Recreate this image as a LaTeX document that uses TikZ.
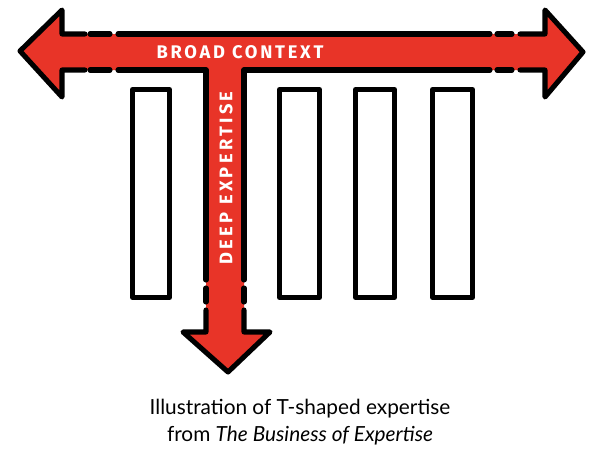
\documentclass[tikz,border=0pt]{standalone}
\usepackage{fontspec}
\setmainfont{Lato}
\newfontfamily\handfont[LetterSpace=15]{Fira Sans}
\newfontfamily\handfontv[LetterSpace=18]{Fira Sans}
\usepackage{xcolor}
\usepackage{tikz}
\definecolor{tred}{RGB}{232,52,40}
\tikzset{outline/.style={line width=3.6pt, line cap=round, line join=round}}

\begin{document}
\begin{tikzpicture}[x=0.025cm, y=-0.025cm]
    \useasboundingbox (0, 0) rectangle (600, 456);

    % T fill
    \fill[tred] (62, 34) -- (62, 10) -- (20, 51) -- (62, 97) -- (62, 70) -- (206, 70) -- (206, 332) -- (183, 332) -- (228, 372) -- (270, 332) -- (244, 332) -- (244, 70) -- (545, 70) -- (545, 97) -- (583, 52) -- (545, 10) -- (545, 34) --cycle;

    % T outline, broken near the heads
    \draw[outline] (85, 34) -- (62, 34) -- (62, 10) -- (20, 51) -- (62, 97) -- (62, 70) -- (85, 70);
    \foreach \y in {34, 70}{
            \draw[outline] (90, \y) -- (110, \y);
            \draw[outline] (497, \y) -- (512, \y);
        }
    \draw[outline] (118, 34) -- (490, 34);
    \draw[outline] (118, 70) -- (206, 70) -- (206, 280);
    \draw[outline] (244, 280) -- (244, 70) -- (490, 70);
    \foreach \x in {206, 244}{
            \draw[outline] (\x, 288) -- (\x, 302);
        }
    \draw[outline] (206, 310) -- (206, 332) -- (183, 332) -- (228, 372) -- (270, 332) -- (244, 332) -- (244, 310);
    \draw[outline] (520, 34) -- (545, 34) -- (545, 10) -- (583, 52) -- (545, 97) -- (545, 70) -- (520, 70);

    % columns
    \foreach \xa/\xb in {132.5/169.5, 279.5/319.5, 355.5/394.5, 432.5/472.5}{
            \draw[outline] (\xa, 89.5) rectangle (\xb, 297.5);
        }

    % labels
    \node[text=white, font=\handfont\bfseries\fontsize{13}{13}\selectfont] (broad) at (240, 52) {BROAD CONTEXT};
    \node[text=white, rotate=90, font=\handfontv\bfseries\fontsize{13}{13}\selectfont] (deep) at (226, 178) {DEEP EXPERTISE};
    \node[align=center, font=\fontsize{14.8}{19.5}\selectfont] (caption) at (300, 422) {Illustration of T-shaped expertise\\from \textit{The Business of Expertise}};
\end{tikzpicture}
\end{document}
